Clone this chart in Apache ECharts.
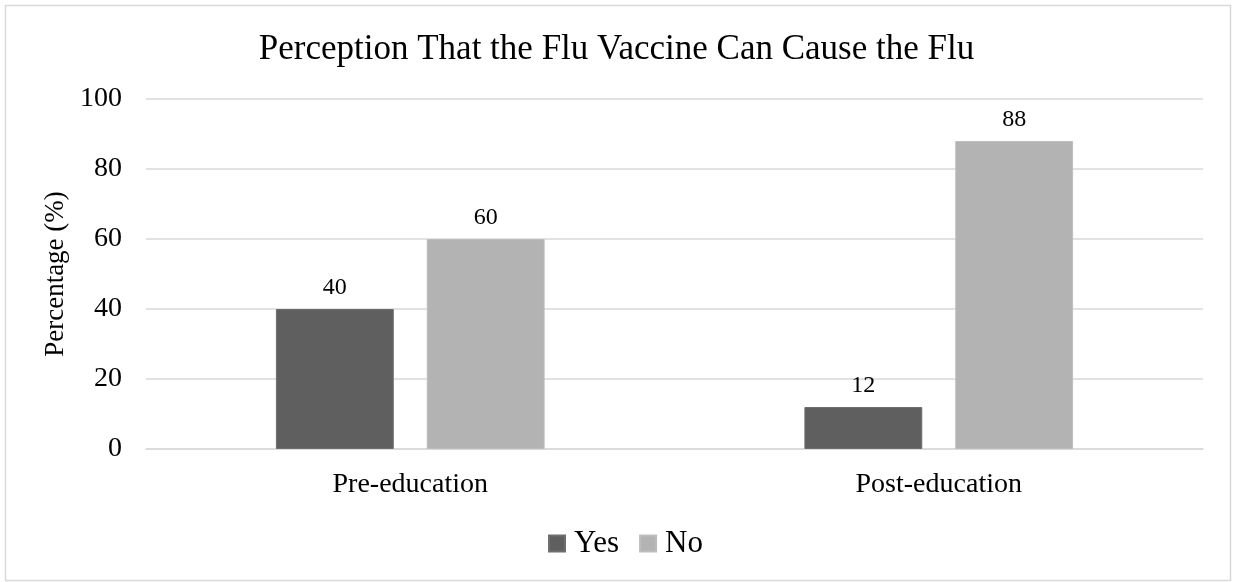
<!DOCTYPE html>
<html>
<head>
<meta charset="utf-8">
<script src="https://cdn.jsdelivr.net/npm/echarts@6/dist/echarts.min.js"></script>
<style>
  html, body { margin: 0; padding: 0; background: #fff; }
  #chart { width: 1233px; height: 582px; }
</style>
</head>
<body>
<div id="chart"></div>
<script>
// Survey responses before and after the education session
const categories = ['Pre-education', 'Post-education'];
const yesValues = [40, 12];
const noValues = [60, 88];
const seriesNames = ['Yes', 'No'];

const FONT = '"Liberation Serif", "Times New Roman", serif';

const chart = echarts.init(document.getElementById('chart'), null, { renderer: 'canvas' });

chart.setOption({
  backgroundColor: '#ffffff',
  animation: false,
  graphic: [{
    type: 'rect',
    shape: { x: 5.5, y: 5.5, width: 1225, height: 575 },
    style: { fill: 'none', stroke: '#d9d9d9', lineWidth: 1.5 },
    silent: true
  }],
  title: {
    text: 'Perception That the Flu Vaccine Can Cause the Flu',
    left: 'center',
    top: 27,
    textStyle: { fontFamily: FONT, fontSize: 35, fontWeight: 'normal', color: '#000' }
  },
  legend: {
    top: 523,
    left: 543,
    itemWidth: 16,
    itemHeight: 16,
    itemGap: 20,
    icon: 'rect',
    textStyle: { fontFamily: FONT, fontSize: 31, color: '#000', padding: [0, 0, 0, 4] },
    data: seriesNames
  },
  grid: { left: 146, right: 30, top: 99, bottom: 133, containLabel: false },
  xAxis: {
    type: 'category',
    data: categories,
    axisLine: { show: true, lineStyle: { color: '#d9d9d9', width: 1.5 } },
    axisTick: { show: false },
    axisLabel: { fontFamily: FONT, fontSize: 28, color: '#000', margin: 22 }
  },
  yAxis: {
    type: 'value',
    min: 0,
    max: 100,
    interval: 20,
    name: 'Percentage (%)',
    nameLocation: 'middle',
    nameGap: 76,
    nameTextStyle: { fontFamily: FONT, fontSize: 27, color: '#000' },
    axisLine: { show: false },
    axisTick: { show: false },
    axisLabel: { fontFamily: FONT, fontSize: 28, color: '#000', margin: 24 },
    splitLine: { lineStyle: { color: '#d9d9d9', width: 1.5 } }
  },
  series: [
    {
      name: seriesNames[0],
      type: 'bar',
      data: yesValues,
      barWidth: '22.3%',
      barGap: '28%',
      itemStyle: { color: '#5f5f5f', borderColor: '#6e6e6e', borderWidth: 1 },
      label: { show: true, position: 'top', distance: 9, fontFamily: FONT, fontSize: 24, color: '#000' }
    },
    {
      name: seriesNames[1],
      type: 'bar',
      data: noValues,
      barWidth: '22.3%',
      itemStyle: { color: '#b3b3b3', borderColor: '#bdbdbd', borderWidth: 1 },
      label: { show: true, position: 'top', distance: 9, fontFamily: FONT, fontSize: 24, color: '#000' }
    }
  ]
});
</script>
</body>
</html>
